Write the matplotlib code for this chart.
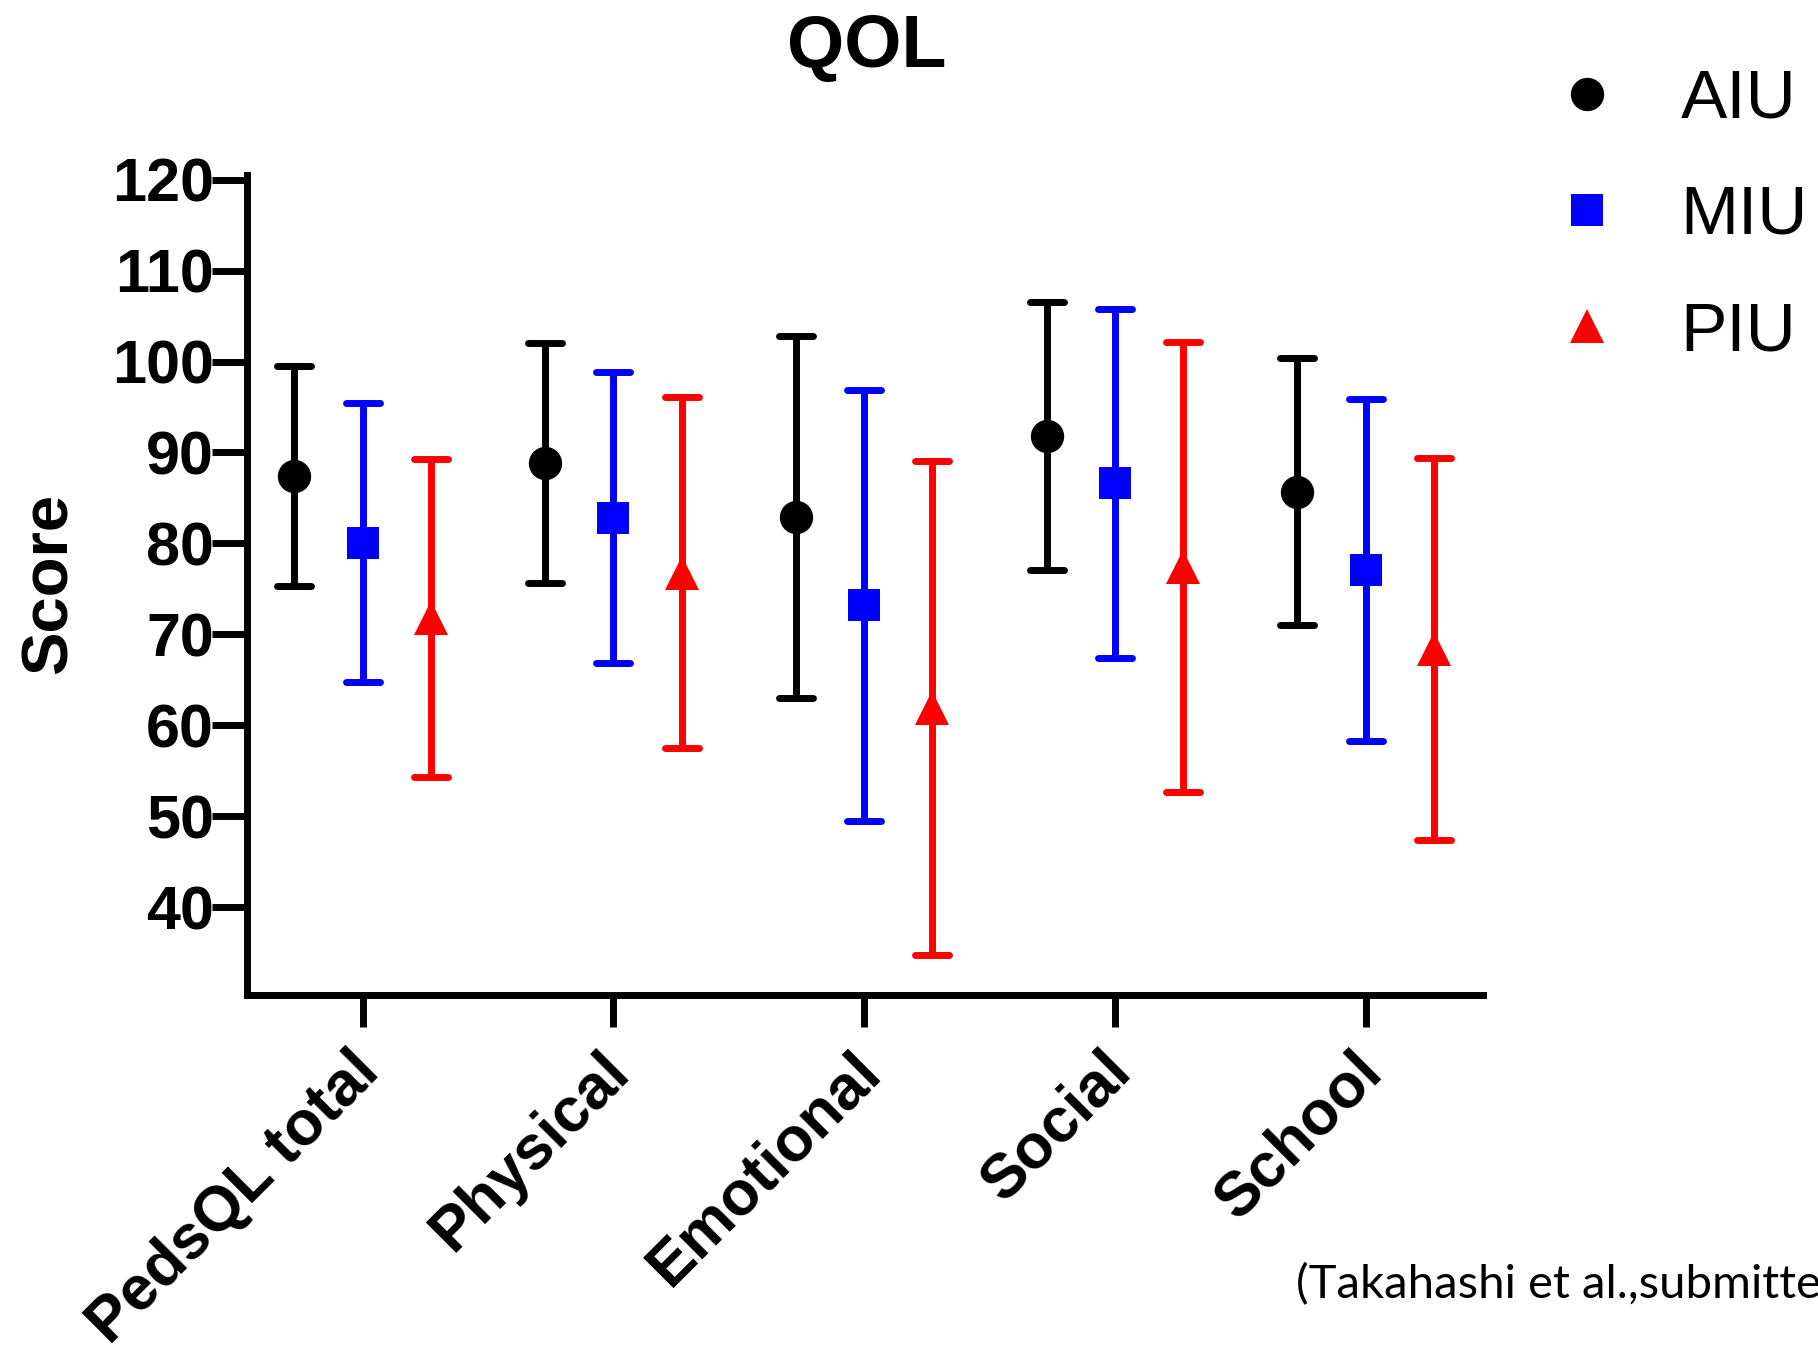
import matplotlib
matplotlib.use('Agg')
import matplotlib.pyplot as plt
import matplotlib.transforms as mtransforms
from matplotlib.lines import Line2D
from matplotlib.markers import MarkerStyle
import numpy as np

# PedsQL scores, mean +/- SD
categories = ['PedsQL total', 'Physical', 'Emotional', 'Social', 'School']
groups = ['AIU', 'MIU', 'PIU']
aiu_mean = [87.4, 88.8, 82.9, 91.8, 85.7]
aiu_sd = [12.1, 13.2, 19.9, 14.7, 14.7]
miu_mean = [80.1, 82.8, 73.2, 86.6, 77.1]
miu_sd = [15.3, 16.0, 23.7, 19.2, 18.8]
piu_mean = [71.8, 76.8, 61.9, 77.4, 68.4]
piu_sd = [17.5, 19.3, 27.2, 24.7, 21.0]
yticks = [40, 50, 60, 70, 80, 90, 100, 110, 120]

BOLD = dict(family='Liberation Sans', weight='bold')

fig = plt.figure(figsize=(18.18, 13.47), dpi=100)
ax = fig.add_axes([0.136, 0.261, 0.680, 0.609])

x = np.arange(len(categories))
offset = 0.272
series = [
    (aiu_mean, aiu_sd, -offset, 'o', 'black', 24),
    (miu_mean, miu_sd, 0.0, 's', 'blue', 23),
    (piu_mean, piu_sd, offset, '^', 'red', 24),
]
for mean, sd, dx, marker, color, ms in series:
    line, caps, _ = ax.errorbar(x + dx, mean, yerr=sd, fmt=marker, color=color,
                                ms=ms, elinewidth=5, capsize=12.5,
                                capthick=5, zorder=3)
    line.set_markeredgewidth(0)
    for cap in caps:
        cap.set_marker(MarkerStyle('_', capstyle='round'))
        cap.set_markeredgewidth(5)
        cap.set_markersize(25)

ax.set_xlim(-0.46, 4.47)
ax.set_ylim(30.3, 120.5)
ax.set_yticks(yticks)
ax.set_xticks(x)

for s in ['top', 'right']:
    ax.spines[s].set_visible(False)
for s in ['left', 'bottom']:
    ax.spines[s].set_linewidth(5)
ax.tick_params(axis='y', length=25, width=5, pad=-1)
ax.tick_params(axis='x', length=23, width=5, pad=25)

ax.set_xticklabels(categories, rotation=45, ha='right', va='center',
                   rotation_mode='anchor', fontsize=45, **BOLD)
# nudge the slanted labels a little to the right, as in the original
shift = mtransforms.ScaledTranslation(7 / 100, 0, fig.dpi_scale_trans)
for lab in ax.get_xticklabels():
    lab.set_transform(lab.get_transform() + shift)
for lab in ax.get_yticklabels():
    lab.set_fontsize(44)
    lab.set_fontfamily('Liberation Sans')
    lab.set_fontweight('bold')

fig.text(867 / 1818, 1 - 48 / 1347, 'QOL', ha='center', va='center',
         fontsize=53, **BOLD)
fig.text(50 / 1818, 1 - 583 / 1347, 'Score', rotation=90, ha='center',
         va='center', fontsize=47, **BOLD)

handles = [Line2D([0], [0], marker=m, color=c, ls='none', ms=ms, mew=0)
           for _, _, _, m, c, ms in series]
fig.legend(handles, groups, loc='center left',
           bbox_to_anchor=(0.8537, 1 - 216 / 1347), frameon=False,
           borderpad=0, borderaxespad=0, handlelength=1.0, handletextpad=0.85,
           labelspacing=0.75, prop=dict(family='Liberation Sans', size=50))

fig.text(1296 / 1818, 1 - 1285 / 1347, '(Takahashi et al.,submitted)',
         ha='left', va='center', fontsize=34, family='Lato', color='black')

fig.savefig('out.png', dpi=100)
